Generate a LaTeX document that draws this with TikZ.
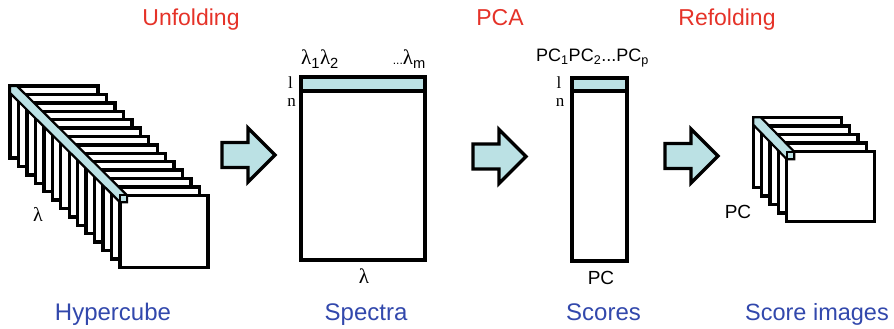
\documentclass[tikz,border=0pt]{standalone}
\usepackage{fontspec}
\setmainfont{Liberation Sans}
\newfontfamily\lamfont{Liberation Serif}

\definecolor{stepred}{RGB}{229,50,40}
\definecolor{stepblue}{RGB}{50,72,172}
\definecolor{pixcyan}{RGB}{187,225,228}

\tikzset{
  slice/.style={draw=black, fill=white, line width=3.4pt, line join=miter},
  pixstrip/.style={draw=black, fill=pixcyan, line width=2.2pt, line join=miter},
  matrixbox/.style={draw=black, line width=3.8pt},
  arrowbody/.style={draw=black, fill=pixcyan, line width=3.4pt, line join=miter},
  steplabel/.style={text=stepred, font=\fontsize{23}{23}\selectfont, inner sep=0pt, anchor=base},
  datalabel/.style={text=stepblue, font=\fontsize{24}{24}\selectfont, inner sep=0pt, anchor=base},
  axislabel/.style={font=\fontsize{19}{19}\selectfont, inner sep=0pt, anchor=base},
  headlabel/.style={font=\fontsize{18}{18}\selectfont, inner sep=0pt},
  lamlabel/.style={font=\fontsize{21}{21}\selectfont, inner sep=0pt},
  rowlabel/.style={font=\lamfont\fontsize{17}{17}\selectfont, inner sep=0pt, anchor=base},
  fatarrow/.pic={
    \draw[arrowbody] (0,-12.5) -- (26,-12.5) -- (26,-27) -- (53,0)
      -- (26,27) -- (26,12.5) -- (0,12.5) -- cycle;
  }
}

\begin{document}
\begin{tikzpicture}[x=1pt, y=-1pt]
\useasboundingbox (0,0) rectangle (894,329);

% stage titles
\node[steplabel] (unfold) at (191,26) {Unfolding};
\node[steplabel] (pca) at (500,26) {PCA};
\node[steplabel] (refold) at (727,26) {Refolding};

% hypercube: a stack of image slices, back to front
\foreach \i in {0,...,13} {
  \path[slice] (10+8.46*\i, 86+8.4*\i) rectangle ++(88,72);
}
% one pixel traced through all wavelengths
\draw[pixstrip] (10,86) -- (17,86) -- (127,195.2) -- (127,202.2)
  -- (120,202.2) -- (10,93) -- cycle;
\draw[pixstrip] (120,195.2) rectangle (127,202.2);
\node[axislabel, font=\lamfont\fontsize{20}{20}\selectfont] (lamcube) at (38,221) {λ};

\pic at (222,155) {fatarrow};

% unfolded spectra matrix
\fill[pixcyan] (301,77) rectangle (425,91);
\draw[matrixbox] (301,77) rectangle (425,260);
\draw[matrixbox] (301,91) -- (425,91);
\node[lamlabel, anchor=base west] (lamfirst) at (301,65)
  {{\lamfont λ}\textsubscript{1}{\lamfont λ}\textsubscript{2}};
\node[lamlabel, anchor=base east] (lamlast) at (426,65)
  {{\fontsize{12}{12}\selectfont...}{\lamfont λ}\textsubscript{m}};
\node[rowlabel] (rowl) at (290.5,88.5) {l};
\node[rowlabel] (rown) at (291.5,106.5) {n};
\node[axislabel, font=\lamfont\fontsize{21}{21}\selectfont] (lamspec) at (364,283) {λ};

\pic at (473,156.5) {fatarrow};

% score matrix
\fill[pixcyan] (572,78) rectangle (627,91);
\draw[matrixbox] (572,78) rectangle (627,261);
\draw[matrixbox] (572,91) -- (627,91);
\node[headlabel, anchor=base] (pchead) at (592.5,62)
  {PC\textsubscript{1}PC\textsubscript{2}...PC\textsubscript{p}};
\node[rowlabel] (rowl2) at (559,88.5) {l};
\node[rowlabel] (rown2) at (560,106.5) {n};
\node[axislabel] (pcscore) at (601,284) {PC};

\pic at (665,156) {fatarrow};

% refolded score images
\foreach \i in {0,...,4} {
  \path[slice] (753.3+8.35*\i, 117.3+8.6*\i) rectangle ++(88,70);
}
\draw[pixstrip] (753.3,117.3) -- (760.8,117.3) -- (794.2,151.7) -- (794.2,159.2)
  -- (786.7,159.2) -- (753.3,124.8) -- cycle;
\draw[pixstrip] (786.7,151.7) rectangle (794.2,159.2);
\node[axislabel] (pcimg) at (738,218) {PC};

% data names
\node[datalabel] (hyper) at (113,320) {Hypercube};
\node[datalabel] (spectra) at (366,320) {Spectra};
\node[datalabel] (scores) at (603.5,320) {Scores};
\node[datalabel, font=\fontsize{23.5}{23.5}\selectfont] (scoreimg) at (817,320) {Score images};
\end{tikzpicture}
\end{document}
